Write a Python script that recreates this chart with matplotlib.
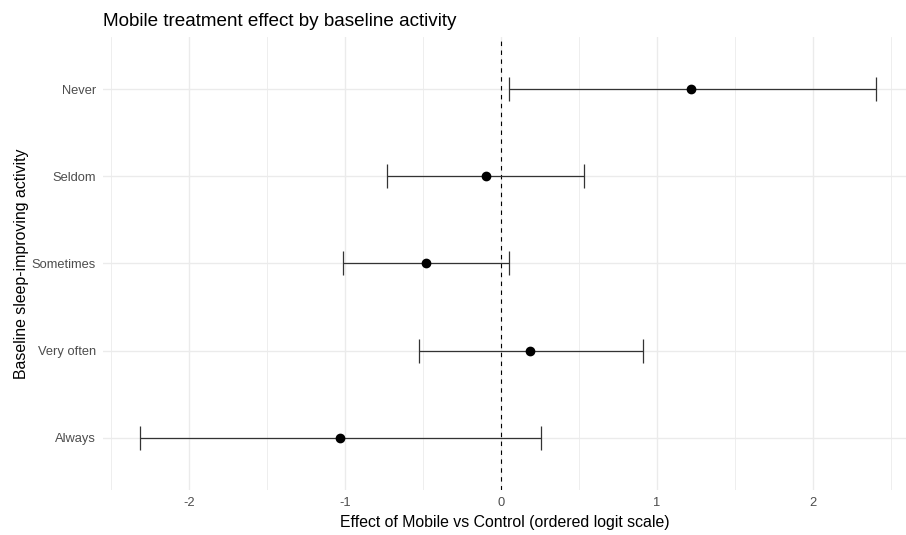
import matplotlib.pyplot as plt
import numpy as np

plt.rcParams['font.family'] = ['Liberation Sans', 'DejaVu Sans']
plt.rcParams['axes.unicode_minus'] = False

# estimates per baseline level (bottom to top)
levels = ['Always', 'Very often', 'Sometimes', 'Seldom', 'Never']
estimate = [-1.035, 0.188, -0.483, -0.098, 1.220]
lower = [-2.317, -0.524, -1.011, -0.729, 0.051]
upper = [0.254, 0.908, 0.049, 0.534, 2.404]

fig = plt.figure(figsize=(9.06, 5.35), dpi=100)
ax = fig.add_axes([103 / 906, 1 - 490 / 535, (906 - 103) / 906, (490 - 37) / 535])

y = np.arange(1, len(levels) + 1)
est = np.array(estimate)
lo = np.array(lower)
hi = np.array(upper)

# grid like theme_minimal
for v in np.arange(-2.5, 2.6, 0.5):
    major = float(v).is_integer()
    ax.axvline(v, color='#ebebeb', lw=1.0 if major else 0.6, zorder=0)
for v in y:
    ax.axhline(v, color='#ebebeb', lw=1.0, zorder=0)

ax.axvline(0, color='black', lw=0.8, ls=(0, (4, 4)), zorder=1)
ax.errorbar(est, y, xerr=[est - lo, hi - est], fmt='none', ecolor='#333333',
            elinewidth=0.9, capsize=8.5, capthick=0.9, zorder=2)
ax.scatter(est, y, s=36, color='black', zorder=3)

ax.set_xlim(-2.551, 2.596)
ax.set_ylim(0.4, 5.6)
ax.set_xticks([-2, -1, 0, 1, 2])
ax.set_yticks(y)
ax.set_yticklabels(levels)
ax.tick_params(length=0, labelsize=9.3, labelcolor='#4d4d4d', pad=5)
for s in ax.spines.values():
    s.set_visible(False)

ax.set_xlabel('Effect of Mobile vs Control (ordered logit scale)', fontsize=11.4, labelpad=4)
ax.set_ylabel('Baseline sleep-improving activity', fontsize=11.4, labelpad=2)
ax.set_title('Mobile treatment effect by baseline activity', fontsize=13.6, loc='left', pad=8)

fig.savefig('out.png', dpi=100)
